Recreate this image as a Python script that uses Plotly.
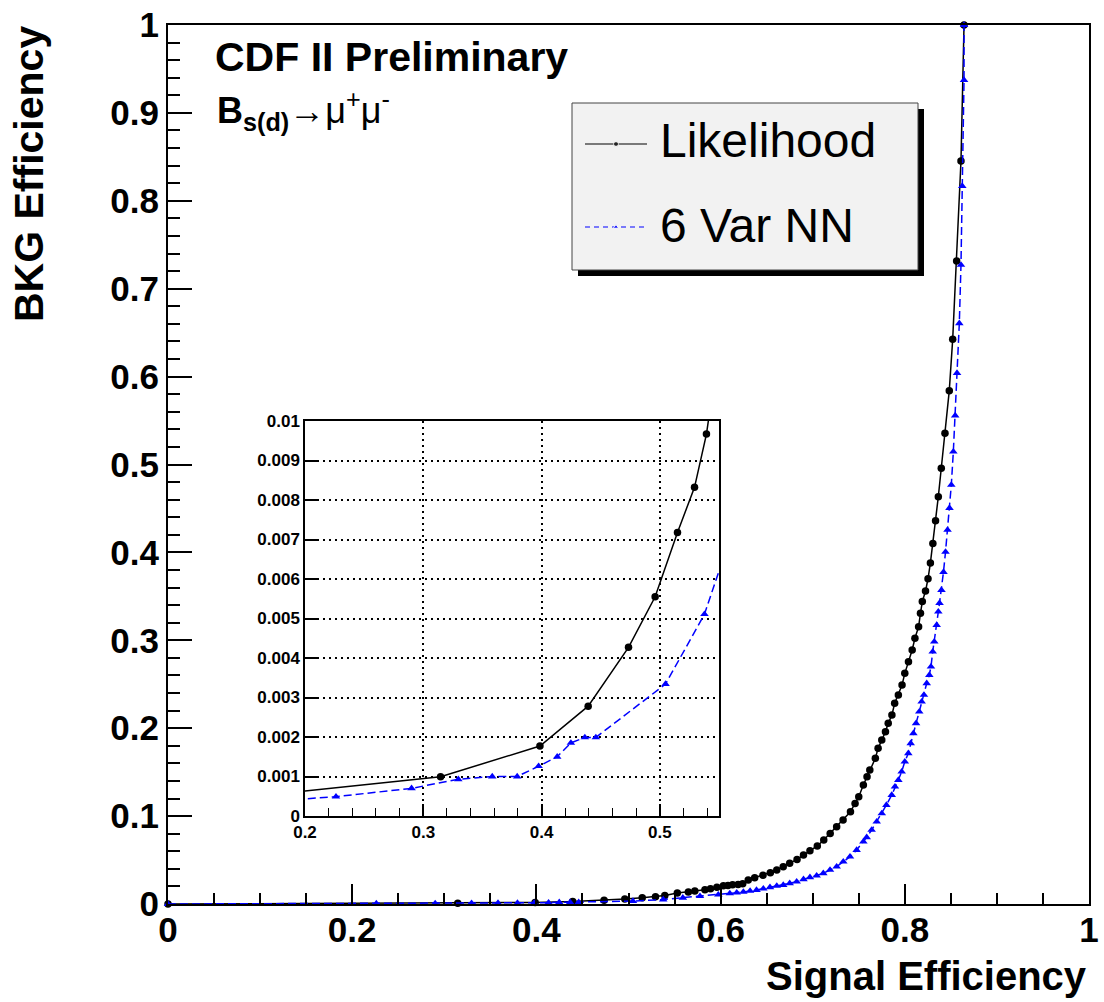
import plotly.graph_objects as go

# ---------------- data ----------------
sig_eff_lh = [0.0, 0.3146, 0.3986, 0.4394, 0.4735, 0.496, 0.5149, 0.5293, 0.5394,
              0.553, 0.565, 0.572, 0.583, 0.589, 0.596, 0.603, 0.608, 0.613, 0.619,
              0.624, 0.630, 0.637, 0.646, 0.654, 0.661, 0.668, 0.675, 0.683, 0.690,
              0.697, 0.705, 0.712, 0.719, 0.726, 0.733, 0.741, 0.746, 0.750, 0.755,
              0.759, 0.762, 0.768, 0.771, 0.775, 0.779, 0.782, 0.786, 0.789, 0.793,
              0.797, 0.800, 0.804, 0.808, 0.811, 0.815, 0.817, 0.819, 0.8225, 0.8252,
              0.8278, 0.8305, 0.8334, 0.8364, 0.8396, 0.8436, 0.8483, 0.8520, 0.8563,
              0.8610, 0.8643]
bkg_eff_lh = [0.0, 0.000995, 0.00177, 0.00278, 0.00427, 0.00555, 0.00718, 0.00832, 0.00967,
              0.0125, 0.0137, 0.0148, 0.0163, 0.0173, 0.0190, 0.0207, 0.0211, 0.0218, 0.0223,
              0.0230, 0.0273, 0.0299, 0.0326, 0.0356, 0.0387, 0.0425, 0.0463, 0.0507, 0.0557,
              0.0606, 0.0660, 0.0728, 0.0803, 0.0879, 0.0956, 0.1050, 0.1144, 0.1220, 0.1354,
              0.1448, 0.1524, 0.1657, 0.1771, 0.1866, 0.1960, 0.2055, 0.2150, 0.2283, 0.2378,
              0.2491, 0.2624, 0.2757, 0.2890, 0.3023, 0.3155, 0.3307, 0.3440, 0.3560, 0.3700,
              0.3880, 0.4100, 0.4360, 0.4634, 0.4957, 0.5355, 0.5840, 0.6424, 0.7315,
              0.8453, 1.0]

sig_eff_nn = [0.0, 0.2262, 0.2901, 0.3296, 0.3583, 0.3794, 0.3975, 0.4132, 0.4248, 0.4366,
              0.4459, 0.5048, 0.5377, 0.559, 0.5776, 0.5975, 0.610, 0.6175, 0.6247, 0.632,
              0.639, 0.6464, 0.6536, 0.661, 0.668, 0.675, 0.6826, 0.690, 0.697, 0.7043,
              0.7115, 0.7188, 0.726, 0.7332, 0.7405, 0.7477, 0.755, 0.7586, 0.764, 0.7695,
              0.775, 0.780, 0.7858, 0.7893, 0.793, 0.7966, 0.800, 0.8038, 0.8064, 0.8093,
              0.8122, 0.8157, 0.8183, 0.8208, 0.8238, 0.8266, 0.8284, 0.8303, 0.832, 0.8346,
              0.8364, 0.8377, 0.8398, 0.842, 0.8442, 0.8464, 0.8485, 0.8505, 0.8527, 0.8547,
              0.8567, 0.8592, 0.861, 0.8624, 0.8643, 0.8643]
bkg_eff_nn = [0.0, 0.00049, 0.00070, 0.00093, 0.00100, 0.00100, 0.00126, 0.00150, 0.00185, 0.00199,
              0.00199, 0.00334, 0.00511, 0.0070, 0.0089, 0.0106, 0.0120, 0.0129, 0.0137, 0.0148,
              0.0159, 0.0174, 0.0190, 0.0205, 0.0216, 0.0235, 0.0254, 0.0281, 0.0304, 0.0322,
              0.0349, 0.0387, 0.0425, 0.0481, 0.0538, 0.0614, 0.0709, 0.0759, 0.0842, 0.0936,
              0.1031, 0.1126, 0.1240, 0.1334, 0.1410, 0.1505, 0.1619, 0.1714, 0.1828, 0.1942,
              0.2056, 0.2188, 0.2302, 0.2378, 0.2511, 0.2605, 0.2700, 0.2870, 0.2984, 0.3174,
              0.3325, 0.3424, 0.3572, 0.3777, 0.4005, 0.4255, 0.4505, 0.4767, 0.5146, 0.5557,
              0.6041, 0.6606, 0.7270, 0.8168, 0.9374, 1.0]

series_names = ["Likelihood", "6 Var NN"]

# ---------------- layout helpers ----------------
W, H = 1104, 1002
FONT = "Liberation Sans, Arial, Helvetica, sans-serif"
BLUE = "#0000ff"

def dom_x(a, b):
    return [a / W, b / W]

def dom_y(top, bottom):
    return [1 - bottom / H, 1 - top / H]

lh_line = dict(color="black", width=1.5)
nn_line = dict(color=BLUE, width=1.5, dash="8px,4px")
lh_marker = dict(symbol="circle", size=7.5, color="black")
nn_marker = dict(symbol="triangle-up", size=7.5, color=BLUE)

fig = go.Figure()

for xa, ya, clip in [("x", "y", False), ("x2", "y2", True)]:
    fig.add_trace(go.Scatter(x=sig_eff_lh, y=bkg_eff_lh, xaxis=xa, yaxis=ya,
                             mode="lines+markers", line=lh_line, marker=lh_marker,
                             cliponaxis=clip, showlegend=False, name=series_names[0]))
    fig.add_trace(go.Scatter(x=sig_eff_nn, y=bkg_eff_nn, xaxis=xa, yaxis=ya,
                             mode="lines+markers", line=nn_line, marker=nn_marker,
                             cliponaxis=clip, showlegend=False, name=series_names[1]))

# legend samples (pixel overlay axes)
fig.add_trace(go.Scatter(x=[585, 616, 647], y=[144, 144, 144], xaxis="x3", yaxis="y3",
                         mode="lines+markers", line=dict(color="black", width=1.2),
                         marker=dict(symbol="circle", size=[0, 5, 0], color="black"),
                         showlegend=False, hoverinfo="skip"))
fig.add_trace(go.Scatter(x=[585, 616, 647], y=[227, 227, 227], xaxis="x3", yaxis="y3",
                         mode="lines+markers", line=dict(color=BLUE, width=1.2, dash="5px,4px"),
                         marker=dict(symbol="triangle-up", size=[0, 5, 0], color=BLUE),
                         showlegend=False, hoverinfo="skip"))

common = dict(showline=True, mirror=True, linecolor="black", linewidth=2,
              ticks="inside", tickcolor="black", tickwidth=1.5, zeroline=False,
              showgrid=False, automargin=False)

fig.update_layout(
    width=W, height=H, autosize=False,
    margin=dict(l=0, r=0, t=0, b=0, pad=0, autoexpand=False),
    paper_bgcolor="white", plot_bgcolor="rgba(0,0,0,0)",
    font=dict(family=FONT, color="black"),
    xaxis=dict(domain=dom_x(168, 1089), range=[0, 1], anchor="y", tick0=0, dtick=0.2,
               ticklen=20, tickfont=dict(size=35, weight="bold"), ticklabelstandoff=-6,
               minor=dict(dtick=0.05, ticklen=11, ticks="inside", tickcolor="black",
                          tickwidth=1.5, showgrid=False),
               **common),
    yaxis=dict(domain=dom_y(25, 904), range=[0, 1], anchor="x", tick0=0, dtick=0.1,
               ticklen=24, tickfont=dict(size=35, weight="bold"),
               minor=dict(dtick=0.02, ticklen=12, ticks="inside", tickcolor="black",
                          tickwidth=1.5, showgrid=False),
               **common),
    xaxis2=dict(domain=dom_x(305, 719), range=[0.2, 0.55], anchor="y2", tick0=0, dtick=0.1,
                ticklen=12, tickfont=dict(size=17, weight="bold"), ticklabelstandoff=0,
                minor=dict(dtick=0.02, ticklen=8, ticks="inside", tickcolor="black",
                           tickwidth=1.2, showgrid=False),
                **{**common, "showgrid": True, "linewidth": 1.5},
                gridcolor="black", griddash="2px,4px", gridwidth=1.5),
    yaxis2=dict(domain=dom_y(421, 816), range=[0, 0.01], anchor="x2", tick0=0, dtick=0.001,
                ticklen=12, tickfont=dict(size=17, weight="bold"),
                **{**common, "showgrid": True, "linewidth": 1.5},
                gridcolor="black", griddash="2px,4px", gridwidth=1.5),
    xaxis3=dict(domain=[0, 1], range=[0, W], anchor="y3", visible=False, fixedrange=True,
                automargin=False),
    yaxis3=dict(domain=[0, 1], range=[H, 0], anchor="x3", visible=False, fixedrange=True,
                automargin=False),
)

# legend box with shadow
fig.add_shape(type="rect", xref="x3", yref="y3", x0=578, x1=924, y0=109, y1=276,
              fillcolor="black", line=dict(width=0), layer="below")
fig.add_shape(type="rect", xref="x3", yref="y3", x0=572, x1=918, y0=103, y1=270,
              fillcolor="#f2f2f2", line=dict(color="#444444", width=1), layer="below")

ann = [
    dict(x=213, y=57, text="<b>CDF II Preliminary</b>", size=41, xanchor="left"),
    dict(x=215, y=110, text="<b>B<sub>s(d)</sub></b>→μ<sup>+</sup>μ<sup>-</sup>", size=36,
         xanchor="left"),
    dict(x=658, y=140, text=series_names[0], size=48, xanchor="left"),
    dict(x=658, y=225, text=series_names[1], size=48, xanchor="left"),
    dict(x=1089, y=976, text="<b>Signal Efficiency</b>", size=40, xanchor="right"),
]
for a in ann:
    fig.add_annotation(x=a["x"], y=a["y"], xref="x3", yref="y3", text=a["text"],
                       showarrow=False, xanchor=a["xanchor"], yanchor="middle",
                       font=dict(family=FONT, size=a["size"], color="black"))
fig.add_annotation(x=29, y=24, xref="x3", yref="y3", text="<b>BKG Efficiency</b>",
                   showarrow=False, textangle=-90, xanchor="center", yanchor="top",
                   font=dict(family=FONT, size=41, color="black"))

fig.write_html("out.html")
